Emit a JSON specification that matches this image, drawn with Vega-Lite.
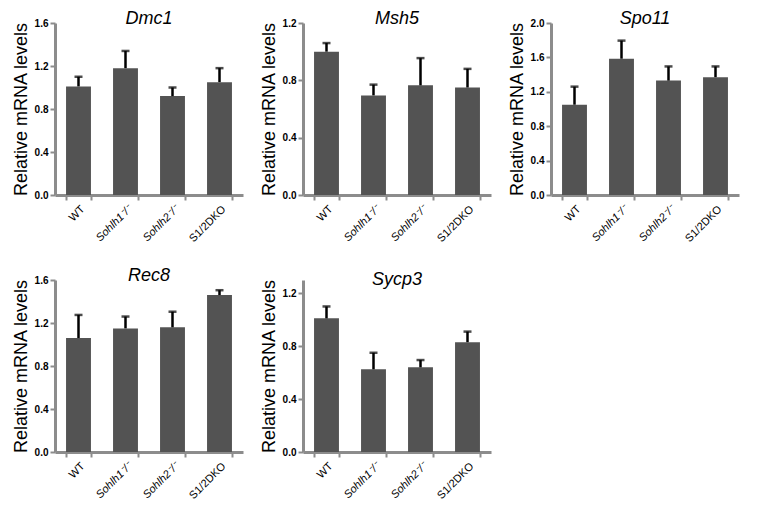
{
  "$schema": "https://vega.github.io/schema/vega-lite/v6.json",
  "padding": {"left": 12, "top": 10, "right": 5, "bottom": 5},
  "datasets": {
    "expr": [
      {"gene": "Dmc1", "genotype": "WT", "value": 1.01, "upper": 1.10},
      {"gene": "Dmc1", "genotype": "Sohlh1-/-", "value": 1.18, "upper": 1.34},
      {"gene": "Dmc1", "genotype": "Sohlh2-/-", "value": 0.92, "upper": 1.00},
      {"gene": "Dmc1", "genotype": "S1/2DKO", "value": 1.05, "upper": 1.18},
      {"gene": "Msh5", "genotype": "WT", "value": 1.00, "upper": 1.06},
      {"gene": "Msh5", "genotype": "Sohlh1-/-", "value": 0.695, "upper": 0.77},
      {"gene": "Msh5", "genotype": "Sohlh2-/-", "value": 0.765, "upper": 0.955},
      {"gene": "Msh5", "genotype": "S1/2DKO", "value": 0.75, "upper": 0.88},
      {"gene": "Spo11", "genotype": "WT", "value": 1.05, "upper": 1.26},
      {"gene": "Spo11", "genotype": "Sohlh1-/-", "value": 1.585, "upper": 1.795},
      {"gene": "Spo11", "genotype": "Sohlh2-/-", "value": 1.33, "upper": 1.495},
      {"gene": "Spo11", "genotype": "S1/2DKO", "value": 1.37, "upper": 1.495},
      {"gene": "Rec8", "genotype": "WT", "value": 1.06, "upper": 1.275},
      {"gene": "Rec8", "genotype": "Sohlh1-/-", "value": 1.15, "upper": 1.26},
      {"gene": "Rec8", "genotype": "Sohlh2-/-", "value": 1.16, "upper": 1.305},
      {"gene": "Rec8", "genotype": "S1/2DKO", "value": 1.46, "upper": 1.505},
      {"gene": "Sycp3", "genotype": "WT", "value": 1.01, "upper": 1.10},
      {"gene": "Sycp3", "genotype": "Sohlh1-/-", "value": 0.625, "upper": 0.75},
      {"gene": "Sycp3", "genotype": "Sohlh2-/-", "value": 0.64, "upper": 0.695},
      {"gene": "Sycp3", "genotype": "S1/2DKO", "value": 0.83, "upper": 0.91}
    ]
  },
  "data": {"name": "expr"},
  "spacing": 23,
  "vconcat": [
    {
      "spacing": 17,
      "hconcat": [
        {
          "width": 188, "height": 172,
          "title": {"text": "Dmc1"},
          "transform": [{"filter": "datum.gene === 'Dmc1'"}],
          "encoding": {
            "x": {"field": "genotype", "type": "nominal", "sort": null, "title": null,
                  "scale": {"paddingInner": 0.47, "paddingOuter": 0.235},
                  "axis": {"labelExpr": "isValid(datum.value) ? replace(datum.value, '-/-', '⁻/⁻') : ''",
                           "labelFontStyle": {"condition": {"test": "isValid(datum.value) && indexof(datum.value, 'Sohlh') === 0", "value": "italic"}, "value": "normal"}}}
          },
          "layer": [
            {"mark": {"type": "bar", "color": "#535353"},
             "encoding": {"y": {"field": "value", "type": "quantitative", "title": "Relative mRNA levels",
                                "scale": {"domain": [0, 1.6], "nice": false},
                                "axis": {"values": [0, 0.4, 0.8, 1.2, 1.6], "format": ".1f"}}}},
            {"mark": {"type": "rule", "color": "black", "strokeWidth": 2.5},
             "encoding": {"y": {"field": "value", "type": "quantitative", "title": "Relative mRNA levels"}, "y2": {"field": "upper"}}},
            {"mark": {"type": "tick", "color": "black", "thickness": 2.5, "size": 8},
             "encoding": {"y": {"field": "upper", "type": "quantitative", "title": "Relative mRNA levels"}}}
          ]
        },
        {
          "width": 188, "height": 172,
          "title": {"text": "Msh5"},
          "transform": [{"filter": "datum.gene === 'Msh5'"}],
          "encoding": {
            "x": {"field": "genotype", "type": "nominal", "sort": null, "title": null,
                  "scale": {"paddingInner": 0.47, "paddingOuter": 0.235},
                  "axis": {"labelExpr": "isValid(datum.value) ? replace(datum.value, '-/-', '⁻/⁻') : ''",
                           "labelFontStyle": {"condition": {"test": "isValid(datum.value) && indexof(datum.value, 'Sohlh') === 0", "value": "italic"}, "value": "normal"}}}
          },
          "layer": [
            {"mark": {"type": "bar", "color": "#535353"},
             "encoding": {"y": {"field": "value", "type": "quantitative", "title": "Relative mRNA levels",
                                "scale": {"domain": [0, 1.2], "nice": false},
                                "axis": {"values": [0, 0.4, 0.8, 1.2], "format": ".1f"}}}},
            {"mark": {"type": "rule", "color": "black", "strokeWidth": 2.5},
             "encoding": {"y": {"field": "value", "type": "quantitative", "title": "Relative mRNA levels"}, "y2": {"field": "upper"}}},
            {"mark": {"type": "tick", "color": "black", "thickness": 2.5, "size": 8},
             "encoding": {"y": {"field": "upper", "type": "quantitative", "title": "Relative mRNA levels"}}}
          ]
        },
        {
          "width": 188, "height": 172,
          "title": {"text": "Spo11"},
          "transform": [{"filter": "datum.gene === 'Spo11'"}],
          "encoding": {
            "x": {"field": "genotype", "type": "nominal", "sort": null, "title": null,
                  "scale": {"paddingInner": 0.47, "paddingOuter": 0.235},
                  "axis": {"labelExpr": "isValid(datum.value) ? replace(datum.value, '-/-', '⁻/⁻') : ''",
                           "labelFontStyle": {"condition": {"test": "isValid(datum.value) && indexof(datum.value, 'Sohlh') === 0", "value": "italic"}, "value": "normal"}}}
          },
          "layer": [
            {"mark": {"type": "bar", "color": "#535353"},
             "encoding": {"y": {"field": "value", "type": "quantitative", "title": "Relative mRNA levels",
                                "scale": {"domain": [0, 2.0], "nice": false},
                                "axis": {"values": [0, 0.4, 0.8, 1.2, 1.6, 2.0], "tickCount": 10, "format": ".1f"}}}},
            {"mark": {"type": "rule", "color": "black", "strokeWidth": 2.5},
             "encoding": {"y": {"field": "value", "type": "quantitative", "title": "Relative mRNA levels"}, "y2": {"field": "upper"}}},
            {"mark": {"type": "tick", "color": "black", "thickness": 2.5, "size": 8},
             "encoding": {"y": {"field": "upper", "type": "quantitative", "title": "Relative mRNA levels"}}}
          ]
        }
      ]
    },
    {
      "spacing": 17,
      "hconcat": [
        {
          "width": 188, "height": 172,
          "title": {"text": "Rec8"},
          "transform": [{"filter": "datum.gene === 'Rec8'"}],
          "encoding": {
            "x": {"field": "genotype", "type": "nominal", "sort": null, "title": null,
                  "scale": {"paddingInner": 0.47, "paddingOuter": 0.235},
                  "axis": {"labelExpr": "isValid(datum.value) ? replace(datum.value, '-/-', '⁻/⁻') : ''",
                           "labelFontStyle": {"condition": {"test": "isValid(datum.value) && indexof(datum.value, 'Sohlh') === 0", "value": "italic"}, "value": "normal"}}}
          },
          "layer": [
            {"mark": {"type": "bar", "color": "#535353"},
             "encoding": {"y": {"field": "value", "type": "quantitative", "title": "Relative mRNA levels",
                                "scale": {"domain": [0, 1.6], "nice": false},
                                "axis": {"values": [0, 0.4, 0.8, 1.2, 1.6], "format": ".1f"}}}},
            {"mark": {"type": "rule", "color": "black", "strokeWidth": 2.5},
             "encoding": {"y": {"field": "value", "type": "quantitative", "title": "Relative mRNA levels"}, "y2": {"field": "upper"}}},
            {"mark": {"type": "tick", "color": "black", "thickness": 2.5, "size": 8},
             "encoding": {"y": {"field": "upper", "type": "quantitative", "title": "Relative mRNA levels"}}}
          ]
        },
        {
          "width": 188, "height": 172,
          "title": {"text": "Sycp3"},
          "transform": [{"filter": "datum.gene === 'Sycp3'"}],
          "encoding": {
            "x": {"field": "genotype", "type": "nominal", "sort": null, "title": null,
                  "scale": {"paddingInner": 0.47, "paddingOuter": 0.235},
                  "axis": {"labelExpr": "isValid(datum.value) ? replace(datum.value, '-/-', '⁻/⁻') : ''",
                           "labelFontStyle": {"condition": {"test": "isValid(datum.value) && indexof(datum.value, 'Sohlh') === 0", "value": "italic"}, "value": "normal"}}}
          },
          "layer": [
            {"mark": {"type": "bar", "color": "#535353"},
             "encoding": {"y": {"field": "value", "type": "quantitative", "title": "Relative mRNA levels",
                                "scale": {"domain": [0, 1.3], "nice": false},
                                "axis": {"values": [0, 0.4, 0.8, 1.2], "format": ".1f"}}}},
            {"mark": {"type": "rule", "color": "black", "strokeWidth": 2.5},
             "encoding": {"y": {"field": "value", "type": "quantitative", "title": "Relative mRNA levels"}, "y2": {"field": "upper"}}},
            {"mark": {"type": "tick", "color": "black", "thickness": 2.5, "size": 8},
             "encoding": {"y": {"field": "upper", "type": "quantitative", "title": "Relative mRNA levels"}}}
          ]
        }
      ]
    }
  ],
  "config": {
    "view": {"stroke": null},
    "font": "Liberation Sans",
    "title": {"font": "Liberation Sans", "fontSize": 18, "fontStyle": "italic", "fontWeight": "normal", "color": "black", "offset": -10, "anchor": "middle"},
    "axis": {"domainColor": "#8c8c8c", "domainWidth": 3, "tickColor": "#8c8c8c", "tickWidth": 2, "tickSize": 5,
             "labelFont": "Liberation Sans", "labelColor": "black", "grid": false},
    "axisY": {"labelFontWeight": "bold", "labelFontSize": 10, "labelPadding": 2, "labelOverlap": false,
              "titleFont": "Liberation Sans", "titleFontSize": 18, "titleFontWeight": "normal", "titleColor": "black", "titlePadding": 4},
    "axisX": {"labelAngle": -45, "labelFontSize": 11, "tickBand": "extent", "labelPadding": 3}
  }
}
